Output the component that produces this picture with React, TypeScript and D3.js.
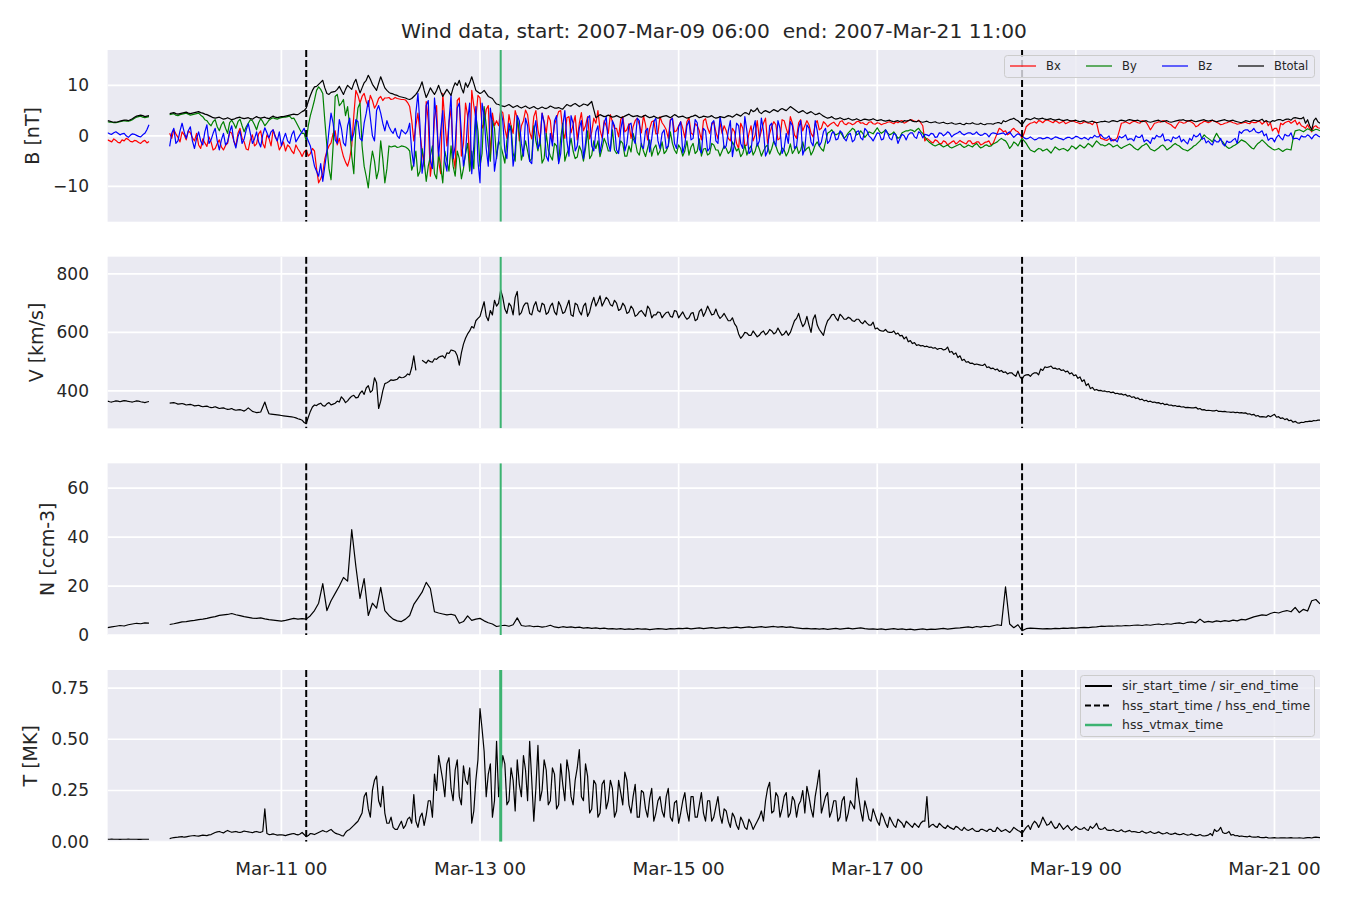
import React from 'react';
import * as d3 from 'd3';

// ---------- DATA: hourly samples from 2007-03-09 06:00 UTC, plus half-hour samples (at h + 0.5) ----------
const START = Date.UTC(2007, 2, 9, 6);
const END = Date.UTC(2007, 2, 21, 11);
const _ = null;

const bxHour = [
  -0.8,-1.2,-0.9,-1.4,-1.0,-0.7,-1.2,-1.0,-1.5,-0.9,-1.1, _,_,_,_,
  0.5,1.2,-0.3,0.8,-0.8,0.6,-1.0,-1.8,-0.6,-2.1, -1.2,-2.5,-0.8,-2.8,-1.5,0.5,-2.0,1.5,-1.2,-2.8,
  0.2,-1.6,1.0,-2.4,-0.5,1.2,-1.0,-2.0,-3.0,-2.2, -3.5,-2.6,-4.1,
  -2.8,-3.5,-3.0,-9.3,-7.4,-3.0,-1.4,1.0,-0.5,-4.1, -6.0,-2.0,9.0,6.5,8.4,5.8,7.0,6.2,7.8,7.5,
  7.6,7.3,7.4,7.2,7.1,5.8,-1.0,4.5,-3.0,6.8, -8.0,3.5,-5.0,8.4,-2.0,5.5,-6.5,7.5,-1.5,4.0, 9.0,3.5,7.5,2.5,6.0,4.5,3.0,
  5.0,1.5,4.2,0.5,3.5,2.0,5.1,0.8,3.8,1.2, 4.5,0.5,3.0,2.2,4.8,1.0,3.6,0.6,4.0,2.5,
  1.0,3.8,0.8,2.5,1.2,3.0,0.5,2.8,1.5,3.2, 0.8,2.4,1.8,3.5,0.6,2.2,1.4,3.0,0.5,2.6,
  1.2,3.2,0.8,2.0,1.5,2.8,0.6,2.4,1.0,3.0, 1.6,2.2,0.8,2.6,
  2.0,-0.5,1.5,-1.5,2.5,-2.0,0.5,-1.0,3.0,1.0, 3.5,0.5,2.8,-0.8,3.2,1.5,3.8,0.2,2.6,1.0,
  3.0,0.5,2.4,1.2,2.8,1.8,2.5,2.2,2.8,2.4, 2.6,2.2,2.8,2.5,2.3,2.7,2.4,2.6,2.2,2.5,
  2.8,2.4,2.6,3.0,2.7,3.2,2.9,3.1,2.0,-0.5, -1.2,-0.8,-1.5,-1.0,-1.8,-1.2,-1.6,-0.9,-1.4,-1.0,
  -1.6,-1.2,-1.8,-1.3,-1.0,-1.5,0.5,1.2,
  1.0,0.5,1.5,0.8,-0.5,1.8,2.5,2.8,3.0,2.6, 3.2,2.8,3.0,2.5,2.9,2.6,3.0,2.7,2.4,2.8,
  2.5,2.2,2.6,-0.5,-0.8,-0.6,-1.0,-0.4,2.5,2.8, 2.4,2.9,2.6,3.0,2.7,1.2,2.5,2.8,3.0,2.6,
  2.2,1.5,2.8,2.5,3.0,2.7,1.8,2.4,2.9,2.6, 3.1,2.7,2.2,2.5,2.8,2.6,2.3,2.5,
  2.7,2.4,2.6,2.9,2.3,3.0,2.6,1.5,0.5,2.2, 2.8,2.5,3.1,2.7,1.8,2.2,0.8,2.0,1.5,
];
const bxHalf = [
  -1.0,-0.6,-1.3,-0.8,-0.5,-1.1,-0.9,-1.3,-1.1,-1.4, _,_,_,_,_,
  -0.5,0.4,-1.2,0.2,1.0,-0.4,0.5,-2.5,-1.4,-0.2, -2.8,-1.5,-2.2,-1.9,0.8,-1.0,0.5,-0.5,-2.6,-0.8,
  -2.0,0.4,-1.5,0.2,-2.0,0.0,-2.8,-1.2,-1.8,-3.0, -1.8,-3.2,
  -3.2,-4.0,-2.5,-6.5,-8.5,-4.5,-2.0,0.5,-1.8,-2.5, -5.2,-4.5,4.0,8.0,7.8,6.8,8.0,5.5,7.4,7.0,
  7.5,7.2,7.6,7.3,7.2,6.6,3.0,2.0,0.5,-6.0, 3.0,-4.5,6.0,-7.5,3.0,2.5,-3.8,7.0,-4.0,6.5,
  -6.8,6.0,8.0,1.5,5.2,-4.2,2.0,
  2.0,4.6,-0.5,2.0,5.0,-1.0,3.0,4.2,-0.6,5.0, -0.8,2.8,4.0,-1.2,3.5,5.0,-0.5,3.8,2.2,-0.8,
  4.6,2.0,-0.6,3.5,5.0,-0.4,2.0,4.2,1.5,-0.2, 3.8,1.2,-0.5,3.0,2.2,4.0,-0.8,2.8,0.4,3.8,
  2.0,-0.5,3.5,1.0,2.8,-0.4,3.6,0.2,2.0,-0.8, 3.4,0.5,2.8,-0.6,
  0.5,1.0,-1.0,0.8,-2.5,1.5,-1.8,2.0,0.2,-0.5, 2.5,-1.5,1.8,2.2,-0.5,3.0,0.2,2.5,-0.5,3.2,
  2.0,2.2,-0.2,3.0,1.5,2.4,2.2,2.7,1.9,3.0, 2.2,2.5,2.4,2.9,2.6,2.2,2.8,2.3,2.5,2.4,
  2.7,2.6,2.8,2.9,2.5,3.0,3.1,2.8,2.6,-1.0, -0.8,-1.4,-1.0,-1.6,-1.2,-1.5,-1.0,-1.3,-1.2,-1.6,
  -1.0,-1.5,-1.2,-1.6,-1.2,-1.8,-0.5,1.5,
  0.8,0.2,1.2,1.0,0.3,0.5,2.2,2.6,2.5,2.9, 3.0,3.0,2.6,2.8,2.7,2.4,2.8,2.9,2.6,2.5,
  2.7,2.5,2.8,0.8,-0.6,-0.9,-0.5,-0.8,1.0,2.6, 2.6,2.7,2.8,2.5,2.9,2.0,1.8,2.6,2.7,2.9,
  2.4,1.8,2.2,2.7,2.6,2.9,2.4,2.0,2.6,2.8, 2.8,2.9,2.5,2.3,2.6,2.8,2.5,2.4,
  2.6,2.5,2.8,2.6,2.8,2.7,2.0,1.0,1.5,2.5, 2.6,2.9,2.8,2.2,2.0,1.5,1.4,1.8,1.6,
];

const byHour = [
  2.8,2.7,2.6,2.8,3.0,2.9,3.2,3.7,3.9,3.6,3.8, _,_,_,_,
  4.2,4.4,4.0,4.3,4.5,4.1,4.3,4.5,3.8,3.0, 2.0,3.2,1.0,2.8,0.5,3.1,1.5,3.3,0.8,2.5,
  3.0,1.2,3.4,2.0,3.1,3.6,3.3,3.6,3.7,3.9, 3.5,2.0,0.5,
  -1.0,4.0,7.1,9.7,8.4,-2.0,-8.7,7.8,6.0,7.2, 5.8,-4.0,1.5,6.5,-6.0,-10.3,-3.0,-8.5,-1.0,-9.3,
  -2.0,-2.1,-2.3,-2.0,-2.2,-3.0,-5.5,-8.0,-2.5,-9.0, -4.0,-7.5,-3.5,-9.3,-5.0,-2.0,-8.0,-4.5,-6.5,-1.5,
  -3.0,4.0,-6.0,5.8,-2.0,3.0,-4.5,
  -2.0,-5.4,1.0,-3.5,3.8,-4.8,-1.0,-5.0,2.0,-3.0, -5.4,0.5,-4.0,-1.5,-5.2,2.5,-3.5,-0.5,-4.5,-2.0,
  -5.0,1.0,-3.8,-2.5,-4.1,-0.5,-3.0,1.2,-3.5,-1.0, -4.0,-2.0,0.5,-3.2,-1.5,-4.1,-0.8,-2.5,-3.8,-1.2,
  -3.0,0.8,-2.8,-1.8,-4.0,-1.0,-2.2,-3.5,-0.6,-2.6, -3.8,-1.5,-2.8,-4.0,
  -2.0,-3.5,-1.2,-3.0,-4.1,-1.8,-2.6,-3.8,-1.5,-4.0, -2.2,-3.6,-1.0,-3.2,-2.4,-4.0,-1.6,-2.8,-3.5,-1.2,
  -2.5,-3.8,-1.8,-2.0,-3.0,0.5,1.2,0.2,0.8,-0.5, 0.6,1.5,0.2,1.0,-0.3,0.8,0.4,1.6,0.5,1.2,
  0.2,0.8,-0.5,0.6,1.0,1.2,0.8,1.5,0.5,-0.8, -1.5,-2.0,-1.6,-2.2,-1.8,-2.4,-2.0,-1.6,-2.3,-1.8,
  -2.2,-1.5,-2.4,-1.9,-2.1,-1.6,-1.2,-0.5,
  -1.0,-2.5,-1.2,-2.0,-0.5,-1.5,-2.8,-3.2,-2.5,-3.0, -2.6,-3.4,-2.2,-2.8,-2.5,-3.0,-2.0,-2.6,-1.8,-2.4,
  -1.5,-2.2,-1.0,-1.8,-2.0,-1.5,-2.2,-1.8,-2.5,-2.0, -1.6,-2.3,-2.8,-2.0,-1.5,-2.6,-3.0,-2.4,-1.8,-2.8,
  -2.2,-1.5,-2.0,-2.7,-3.0,-2.4,-1.8,-1.0,0.2,-0.5, -1.2,0.5,-0.8,-1.8,-2.5,-2.0,-1.5,-0.8,
  -1.2,-2.0,-2.6,-1.5,-0.8,-1.6,-2.3,-2.8,-2.5,-3.1, -2.6,-2.8,1.0,1.2,0.8,1.4,1.0,1.3,1.0,
];
const byHalf = [
  2.7,2.6,2.7,2.9,2.9,3.0,3.5,3.8,3.7,3.7, _,_,_,_,_,
  4.3,4.1,4.2,4.4,4.3,4.2,4.4,4.1,3.2,2.4, 2.8,1.8,2.2,1.5,2.6,2.4,2.8,2.0,1.8,3.2,
  2.2,2.6,2.8,2.5,3.4,3.4,3.5,3.7,3.8,3.4, 2.8,1.2,
  0.5,2.0,5.5,9.0,9.2,3.0,-6.5,-2.0,8.2,6.5, 4.0,2.0,-7.5,5.5,-2.0,-8.0,-6.0,-5.0,-6.8,-4.5,
  -6.5,-2.2,-2.0,-2.2,-2.1,-2.5,-6.8,-3.0,-7.0,-5.0, -6.0,-2.0,-8.5,-6.0,-3.0,-7.0,-6.0,-3.0,-8.5,-3.5,
  -7.0,-6.5,1.0,-3.5,2.0,-5.0,1.5,
  -1.0,-3.5,-1.0,2.0,-5.0,0.5,-3.0,-3.0,-4.5,-1.0, -0.5,-4.5,-2.8,-4.8,-2.0,-0.5,-5.0,-2.5,-3.0,-4.2,
  -3.0,-2.5,-4.5,-1.0,-1.0,-2.5,-1.5,-3.0,-2.8,-3.0, -1.5,-4.0,-3.2,-1.0,-3.8,-3.0,-2.5,-4.0,-1.8,-3.0,
  -3.5,-2.0,-1.5,-3.5,-2.5,-3.0,-3.8,-1.5,-3.0,-4.0, -2.5,-3.5,-1.8,-2.8,
  -3.0,-2.5,-3.0,-2.0,-2.5,-3.5,-3.8,-2.0,-3.0,-2.6, -3.0,-1.8,-2.5,-2.0,-3.8,-2.8,-3.2,-3.5,-2.0,-2.8,
  -3.0,-2.2,-3.0,-1.2,-2.6,-1.2,0.8,0.6,0.4,0.2, 0.0,1.0,1.2,0.4,0.5,0.2,0.6,1.0,0.9,0.8,
  0.6,0.4,0.2,-0.2,0.8,1.0,1.1,1.2,0.9,-0.2, -1.2,-1.8,-1.8,-1.9,-2.0,-2.2,-2.2,-1.8,-2.0,-2.1,
  -2.0,-1.8,-2.0,-2.2,-1.8,-2.0,-1.4,-0.8,
  -0.8,-1.6,-2.0,-1.5,-1.2,-1.0,-2.2,-3.0,-2.8,-2.6, -2.8,-3.0,-2.8,-2.5,-2.6,-2.7,-2.6,-2.2,-2.2,-2.1,
  -2.0,-1.8,-1.6,-1.4,-1.8,-1.8,-1.8,-2.0,-2.2,-2.2, -1.8,-1.9,-2.6,-2.4,-1.8,-2.0,-2.8,-2.7,-2.0,-2.2,
  -2.5,-1.8,-1.8,-2.4,-2.8,-2.7,-2.0,-1.4,-0.4,-0.2, -0.8,-0.3,-0.2,-1.2,-2.2,-2.3,-1.8,-1.2,
  -1.0,-1.6,-2.4,-2.0,-1.2,-1.2,-2.0,-2.6,-2.7,-2.8, -2.8,-2.7,-0.5,1.1,1.0,1.1,1.2,1.1,1.2,
];

const bzHour = [
  0.6,0.3,0.8,0.2,0.5,-0.3,0.4,0.1,-0.2,0.5,2.2, _,_,_,_,
  -2.1,1.5,-1.0,2.5,-0.5,1.8,-2.5,0.8,-1.8,2.2, -0.8,1.5,-2.8,0.5,-1.2,2.0,-2.4,1.0,-0.6,2.4,
  -1.5,0.8,-2.2,1.6,-0.4,1.2,-1.0,-2.0,0.5,-1.5, 1.0,-0.5,0.8,
  0.0,-2.0,-6.0,-8.0,-9.0,-3.0,4.5,-0.8,3.2,-1.4, 2.0,-1.0,3.2,-0.5,2.5,7.0,0.0,5.0,4.5,1.0,
  1.8,0.5,0.0,1.2,0.4,2.5,-6.0,8.4,-7.4,6.0, -5.0,7.5,-4.0,5.0,-7.0,8.0,-2.0,6.5,-6.0,3.0,
  -7.5,5.8,-9.3,4.0,-6.0,2.0,-4.0,
  5.0,-3.0,2.5,-6.0,4.0,-1.5,3.5,-5.0,1.0,-2.5, 4.5,-4.0,0.5,3.0,-5.5,2.0,-1.0,4.0,-3.0,1.5,
  -4.5,3.5,-2.0,0.8,-3.4,2.5,-1.5,3.0,-2.8,1.2, -3.0,2.2,-0.5,3.5,-2.0,1.0,-3.2,2.8,-1.0,0.5,
  -2.5,3.0,-1.5,1.8,-3.4,2.0,-0.8,3.2,-2.6,1.5, -3.0,2.5,-1.0,3.8,
  -2.5,1.0,-4.1,2.5,-1.5,3.8,-3.5,1.2,-2.0,3.5, -4.0,2.0,-1.0,3.0,-3.5,0.5,2.8,-2.5,1.5,-3.8,
  2.2,-1.2,3.0,-2.0,0.8,-1.5,0.5,-0.8,1.0,-0.5, 0.2,-1.2,0.8,-0.4,1.5,0.0,-1.0,0.6,-0.8,1.2,
  -0.5,0.5,-1.5,0.3,-0.8,0.6,-0.2,0.8,-0.4,0.2, 0.5,-0.3,0.6,0.0,0.8,-0.2,0.4,0.9,0.2,0.6,
  0.3,0.8,0.1,0.5,-0.2,0.6,0.3,0.5,
  0.2,0.8,-0.3,0.4,0.0,-0.6,-0.2,-0.8,-0.4,-0.6, -0.3,-0.7,-0.2,-0.5,-0.8,-0.3,-0.6,-0.1,-0.5,-0.3,
  -0.8,-0.4,-0.2,0.3,-0.5,0.0,-0.8,-1.2,-0.4,0.2, -0.6,-1.0,-0.3,0.2,-0.8,-1.5,-0.6,-0.2,0.4,-0.8,
  -1.2,-0.5,0.0,-0.7,-1.6,-0.9,-0.2,0.5,-0.4,-1.0, -1.8,-1.2,-0.5,-2.0,-1.3,-0.8,-1.5,0.5,
  1.2,0.8,1.5,0.6,1.0,0.4,-0.5,-1.2,0.2,-0.8, 0.0,0.6,-0.5,-0.8,-0.2,0.2,-0.6,0.3,-0.2,
];
const bzHalf = [
  0.4,0.6,0.5,0.4,0.0,0.1,0.3,-0.1,0.2,1.2, _,_,_,_,_,
  0.5,-1.5,1.0,0.8,1.0,-1.0,-0.5,-1.0,0.8,-1.5, 0.5,-1.0,-0.8,-1.8,0.8,-1.0,-0.2,-1.5,1.2,0.5,
  -0.6,-1.2,0.2,0.6,0.8,-0.2,0.8,-0.6,-1.0,0.2, -1.2,0.2,
  1.5,-1.0,-4.0,-7.0,-5.5,-6.0,1.0,2.5,-1.5,1.5, -2.0,3.5,0.5,2.8,-1.0,4.5,3.5,-1.0,6.0,2.5,
  3.0,1.0,1.5,-0.5,0.8,1.0,-3.0,4.5,2.0,-4.0, 7.0,-6.5,3.0,1.0,-5.0,3.0,-4.5,5.5,0.5,-3.5,
  6.5,-2.0,-5.0,6.5,-2.5,5.5,-7.0,
  -1.0,3.0,-4.5,1.0,-3.0,3.0,-4.0,2.0,-5.5,3.0, -1.5,2.5,-5.0,-2.0,4.0,-3.5,5.0,-4.0,2.5,-2.0,
  3.0,-1.5,4.0,-3.0,2.0,-1.0,3.8,-3.0,2.0,-3.5, 3.5,-1.5,2.5,-1.5,3.0,-2.5,1.5,-0.5,3.5,-2.5,
  1.2,-2.0,3.5,-2.5,2.8,-1.8,3.0,-0.5,2.6,-3.4, 1.0,-2.5,3.0,-1.5,
  1.5,-2.0,3.0,-1.5,2.0,-2.5,1.0,-3.0,3.0,-1.0, 1.0,-3.0,2.5,-2.0,1.5,-2.5,-1.5,2.0,-2.0,3.0,
  -2.5,1.5,-2.0,1.0,-1.2,1.5,-1.0,0.8,-0.6,0.6, -1.0,0.5,-0.8,1.0,-0.8,1.0,-0.4,-0.2,0.5,-0.6,
  0.5,-0.8,0.2,-0.5,0.0,0.2,0.6,-0.5,0.5,0.3, 0.0,0.4,-0.2,0.5,0.3,0.5,0.2,0.6,0.4,0.4,
  0.6,0.4,0.3,0.2,0.3,0.4,0.5,0.4,
  0.6,0.5,0.2,0.1,0.2,-0.4,-0.5,-0.5,-0.7,-0.4, -0.5,-0.4,-0.5,-0.3,-0.6,-0.5,-0.3,-0.4,-0.2,-0.6,
  -0.5,-0.3,0.1,-0.2,-0.2,-0.4,-1.0,-0.8,-0.1,-0.2, -0.8,-0.6,0.0,-0.3,-1.2,-1.0,-0.4,0.1,-0.2,-1.0,
  -0.8,-0.2,-0.4,-1.2,-1.2,-0.5,0.2,0.0,-0.7,-1.4, -1.5,-0.8,-1.2,-1.6,-1.0,-1.2,-0.5,0.9,
  1.0,1.2,1.0,0.8,0.7,0.0,-0.9,-0.5,-0.3,-0.4, 0.3,0.0,-0.6,-0.5,0.0,-0.2,-0.1,0.0,0.0,
];

const btHour = [
  3.0,2.8,2.7,2.9,3.1,3.0,3.4,3.9,4.1,3.8,4.0, _,_,_,_,
  4.4,4.6,4.3,4.5,4.7,4.4,4.6,4.8,4.5,4.2, 3.8,3.5,3.7,3.3,3.6,3.2,3.5,3.7,3.4,3.6,
  3.3,3.8,3.5,3.7,3.4,3.9,3.6,3.8,3.9,4.1, 4.3,4.2,4.8,
  5.5,8.0,9.7,10.2,11.0,8.4,8.6,8.8,9.8,8.2, 10.0,9.2,11.2,8.5,10.5,12.0,10.2,9.0,11.7,9.5,
  8.6,8.3,8.0,7.7,7.5,7.2,7.8,8.8,10.7,7.6, 9.5,8.2,10.0,7.8,9.2,8.0,10.5,11.0,8.5,9.6,
  11.7,9.0,8.4,9.0,7.8,7.4,6.3,
  6.0,5.8,6.2,5.6,6.0,5.5,5.9,5.4,5.8,5.3, 5.7,5.4,5.9,5.5,5.6,5.3,6.2,5.9,6.4,5.8,
  6.3,6.0,6.8,3.6,4.2,3.8,4.1,3.7,4.0,3.6, 3.9,4.3,3.8,4.0,3.7,4.1,3.6,3.9,3.5,3.8,
  4.0,3.6,4.2,3.7,3.9,3.5,3.8,4.1,3.6,3.9, 3.7,4.0,3.5,3.8,
  3.6,4.0,3.7,4.3,3.9,4.6,4.2,4.8,5.5,4.4, 5.0,4.6,5.2,4.8,5.4,5.0,5.8,5.2,4.6,5.0,
  4.4,4.8,4.2,4.5,3.9,3.5,3.8,3.3,3.6,3.2, 3.5,3.1,3.4,3.0,3.3,3.1,3.4,3.0,3.2,2.9,
  3.1,2.8,3.0,2.7,2.9,3.2,2.8,3.0,2.7,2.9, 2.6,2.8,2.5,2.7,2.4,2.6,2.3,2.5,2.2,2.4,
  2.6,2.3,2.5,2.2,2.4,2.3,2.6,2.4,
  2.8,3.2,3.5,3.0,2.2,3.4,3.2,3.6,3.3,3.5, 3.2,3.4,3.1,3.3,3.0,3.2,2.9,3.1,2.8,3.0,
  2.7,2.9,2.6,2.8,2.9,2.7,3.0,2.8,3.1,2.9, 3.2,3.0,3.1,2.8,3.0,2.7,2.9,3.1,2.8,3.0,
  2.7,2.9,3.1,3.2,2.9,3.1,2.8,3.0,3.2,2.9, 3.1,2.8,3.0,3.2,2.9,3.1,2.8,2.6,
  3.0,2.8,3.1,2.9,3.3,3.0,2.7,2.9,3.2,3.0, 3.3,3.1,3.6,3.4,3.7,3.2,1.2,3.5,2.5,
];
const btHalf = [
  2.9,2.7,2.8,3.0,3.1,3.2,3.7,4.0,4.0,3.9, _,_,_,_,_,
  4.5,4.4,4.4,4.6,4.5,4.5,4.7,4.6,4.3,4.0, 3.6,3.6,3.5,3.4,3.4,3.3,3.6,3.5,3.5,3.4,
  3.6,3.6,3.6,3.5,3.7,3.7,3.7,3.8,4.0,4.2, 4.2,4.5,
  5.0,6.8,9.0,9.8,10.6,9.5,8.2,8.7,9.2,9.0, 9.2,9.6,10.4,9.8,9.5,11.0,11.2,9.6,10.4,10.6,
  9.0,8.4,8.1,7.8,7.6,7.3,7.4,8.2,9.6,9.0, 8.5,8.8,9.0,8.8,8.5,8.6,9.5,10.0,9.5,10.5,
  10.5,10.4,8.7,8.6,8.4,7.6,6.8,
  6.2,5.9,6.0,5.9,5.8,5.7,5.7,5.6,5.6,5.5, 5.5,5.5,5.6,5.7,5.5,5.4,5.8,6.0,6.2,6.1,
  6.0,6.2,6.4,5.2,3.9,4.0,3.9,3.9,3.8,3.8, 3.7,4.1,4.0,3.9,3.8,3.9,3.8,3.7,3.7,3.6,
  3.9,3.8,3.9,4.0,3.8,3.7,3.6,3.9,3.9,3.7, 3.8,3.8,3.7,3.6,
  3.7,3.8,3.9,4.0,4.1,4.3,4.5,5.2,5.0,4.7, 4.8,4.8,4.9,5.0,5.2,5.2,5.4,5.5,4.9,4.8,
  4.7,4.6,4.5,4.3,4.2,3.7,3.6,3.5,3.4,3.4, 3.3,3.3,3.2,3.2,3.2,3.2,3.2,3.2,3.1,3.0,
  3.0,2.9,2.9,2.8,3.0,3.0,2.9,2.8,2.8,2.8, 2.7,2.7,2.6,2.6,2.5,2.5,2.4,2.4,2.3,2.5,
  2.4,2.4,2.3,2.3,2.4,2.4,2.5,2.6,
  3.0,3.0,3.3,3.2,2.6,2.8,3.3,3.4,3.4,3.4, 3.3,3.3,3.2,3.2,3.1,3.1,3.0,3.0,2.9,2.9,
  2.8,2.8,2.7,2.7,2.8,2.8,2.9,2.9,3.0,3.0, 3.1,3.1,3.0,2.9,2.9,2.8,2.8,3.0,2.9,2.9,
  2.8,2.8,3.0,3.1,3.0,3.0,2.9,2.9,3.1,3.0, 3.0,2.9,2.9,3.1,3.0,3.0,2.9,2.7,
  2.8,2.9,3.0,3.0,3.1,2.8,2.8,3.0,3.1,3.2, 3.2,3.3,3.5,3.5,3.4,2.5,2.0,3.0,2.8,
];

const speedHour = [
  365,362,366,363,367,364,362,366,363,360,364, _,_,_,_,
  358,360,355,357,352,354,349,351,346,348, 343,346,340,342,337,340,334,336,331,342,
  330,326,328,362,322,320,318,316,314,312, 310,305,300,
  288,330,352,355,350,356,352,358,362,372, 366,382,376,392,388,418,402,428,365,425,
  432,436,440,445,450,455,520,_,505,495, 500,510,515,520,530,540,535,488,560,595,
  620,640,655,705,640,660,690,
  745,680,700,660,740,668,700,665,690,675, 700,662,690,670,705,665,690,660,700,672,
  690,655,700,690,725,705,712,690,700,680, 690,670,680,660,675,655,680,660,670,650,
  668,655,675,650,670,645,665,640,672,655, 690,660,680,648,
  665,640,650,620,580,600,590,605,585,600, 592,610,595,615,590,605,600,640,665,620,
  655,600,660,610,590,640,660,650,662,645, 652,640,645,635,640,625,635,615,605,610,
  600,605,598,590,585,572,565,558,555,553, 550,548,545,540,550,535,530,520,508,500,
  495,492,488,492,482,478,475,470,
  465,462,455,468,440,455,450,462,455,470, 480,485,478,476,472,468,462,455,448,438,
  425,412,405,402,400,398,396,392,390,388, 384,380,376,372,368,365,362,360,358,355,
  352,350,348,346,344,342,344,340,336,334, 332,334,330,330,328,328,327,326,
  325,322,320,316,312,310,312,320,312,308, 305,300,296,290,292,295,296,298,300,
];
const speedHalf = [
  363,364,365,365,366,363,364,365,362,362, _,_,_,_,_,
  359,358,356,355,353,352,350,348,347,345, 344,343,341,339,338,336,335,334,336,336,
  328,327,345,340,321,319,317,315,313,311, 308,303,
  292,310,345,350,358,348,360,355,365,380, 360,375,385,378,400,410,395,445,340,400,
  428,438,438,448,446,458,480,470,_,500, 505,498,508,518,512,528,538,520,530,580,
  605,615,648,680,655,675,710,
  700,720,665,690,720,660,690,700,660,705, 670,695,668,700,660,690,670,710,655,695,
  660,700,670,720,705,690,720,695,710,675, 700,665,690,655,670,665,690,650,660,668,
  660,670,652,672,660,655,650,668,645,680, 670,675,662,660,
  655,652,640,630,595,588,598,590,595,590, 605,598,605,600,602,595,590,620,648,640,
  630,625,645,625,600,620,648,662,640,655, 645,648,638,645,630,632,625,612,608,604,
  602,600,594,588,578,568,562,556,554,551, 549,546,542,545,542,532,525,514,504,498,
  494,490,490,487,480,476,472,467,
  463,458,462,450,448,452,456,458,462,475, 482,482,477,474,470,465,458,452,443,432,
  418,408,403,401,399,397,394,391,389,386, 382,378,374,370,366,363,361,359,356,353,
  351,349,347,345,343,343,342,338,335,333, 333,332,330,329,328,327,326,325,
  324,321,318,314,311,311,316,316,310,306, 302,298,293,291,293,295,297,299,300,
];

const densityHour = [
  3.0,3.3,3.6,3.9,3.7,4.2,4.5,4.8,4.6,5.0,4.9, _,_,_,_,
  4.3,4.6,5.0,5.4,5.5,5.8,6.0,6.3,6.5,6.8, 7.2,7.5,8.0,8.2,8.4,8.8,8.3,7.9,7.5,7.2,
  6.9,6.8,7.0,6.6,6.3,6.1,5.9,5.7,6.0,6.4, 6.8,6.5,6.7,
  6.5,7.9,10,13,21,10,14,17,20,23.5, 22,43,28,15,23,8,13,11,19.5,10,
  8,6.5,5.8,5.5,6.5,8,12.5,15,17.5,21.5, 19,9.5,9,8.6,8.2,8.5,8,4.8,5.5,7.8,
  6,6.5,6.8,5.8,5,4.5,
  3.5,3.8,4.0,3.6,4.2,7.0,3.9,3.6,3.8,3.4, 3.6,3.2,3.5,4.0,3.3,3.0,3.4,3.1,3.3,3.0,
  3.2,2.8,3.0,2.7,2.9,2.6,2.8,2.5,2.6,2.4, 2.6,2.3,2.5,2.3,2.6,2.4,2.5,2.2,2.4,2.6,
  2.5,2.3,2.6,2.5,2.7,2.6,2.8,2.5,2.7,2.9, 2.6,2.8,3.0,2.7,2.9,
  3.1,2.8,3.0,3.2,2.9,3.1,3.3,3.0,3.2,3.4, 3.1,3.3,3.5,3.2,3.4,3.1,3.3,3.0,2.8,2.6,
  2.7,2.5,2.6,2.4,2.6,2.3,2.5,2.7,2.4,2.6, 2.8,2.5,2.7,2.9,2.6,2.4,2.5,2.3,2.5,2.2,
  2.4,2.6,2.3,2.5,2.2,2.4,2.1,2.3,2.5,2.2, 2.4,2.3,2.5,2.7,2.4,2.6,2.8,2.9,3.1,3.3,
  3.0,3.5,3.2,3.6,3.4,3.8,4.2,3.9,
  19.7,4.5,3.0,4.2,1.8,2.6,2.8,2.7,2.6,2.5, 2.6,2.5,2.7,2.6,2.8,2.7,2.9,2.8,3.0,3.1,
  3.0,3.2,3.3,3.6,3.5,3.7,3.6,3.8,3.7,3.9, 3.8,4.0,4.1,3.9,4.2,4.0,4.3,4.5,4.2,4.6,
  4.4,4.8,5.0,4.6,5.2,5.4,5.0,6.5,5.2,5.6, 5.3,5.8,5.5,5.9,5.6,6.1,5.8,6.4,
  6.2,6.8,7.4,7.8,8.2,8.0,8.8,9.3,9.0,9.6, 10.0,9.5,11.3,9.2,10.5,9.8,14.0,14.5,12.7,
];

const tempHour = [
  0.012,0.013,0.012,0.011,0.012,0.013,0.012,0.012,0.011,0.012,0.012, _,_,_,_,
  0.015,0.02,0.022,0.025,0.024,0.028,0.03,0.027,0.032,0.03, 0.035,0.045,0.05,0.043,0.055,0.046,0.05,0.045,0.052,0.048,
  0.044,0.05,0.046,0.16,0.035,0.038,0.032,0.034,0.03,0.036, 0.04,0.033,0.045,
  0.025,0.04,0.035,0.045,0.055,0.048,0.06,0.042,0.035,0.028, 0.055,0.07,0.09,0.12,0.22,0.16,0.25,0.32,0.17,0.14,
  0.09,0.07,0.06,0.1,0.08,0.12,0.23,0.07,0.14,0.13, 0.2,0.33,0.42,0.3,0.38,0.26,0.35,0.22,0.37,0.28,
  0.09,0.3,0.65,0.44,0.33,0.12,0.49,0.32,
  0.38,0.2,0.3,0.4,0.22,0.35,0.49,0.1,0.47,0.25, 0.35,0.2,0.33,0.18,0.28,0.4,0.22,0.3,0.45,0.2,
  0.32,0.16,0.28,0.14,0.3,0.2,0.26,0.15,0.24,0.34, 0.18,0.22,0.12,0.25,0.16,0.21,0.1,0.2,0.15,0.22,
  0.12,0.19,0.09,0.2,0.15,0.22,0.12,0.18,0.14,0.2, 0.1,0.17,0.13,
  0.16,0.1,0.14,0.08,0.12,0.07,0.11,0.06,0.1,0.15, 0.2,0.29,0.15,0.22,0.16,0.24,0.14,0.2,0.18,0.25,
  0.27,0.16,0.22,0.35,0.18,0.24,0.15,0.2,0.12,0.22, 0.14,0.18,0.31,0.15,0.2,0.11,0.16,0.1,0.14,0.09,
  0.12,0.08,0.11,0.09,0.1,0.08,0.09,0.07,0.1,0.22, 0.08,0.075,0.09,0.07,0.08,0.065,0.075,0.06,0.07,0.055,
  0.065,0.05,0.06,0.055,0.06,0.05,0.07,0.05,
  0.06,0.045,0.07,0.055,0.04,0.07,0.06,0.1,0.07,0.12, 0.08,0.1,0.065,0.09,0.06,0.08,0.055,0.075,0.06,0.07,
  0.055,0.065,0.09,0.06,0.07,0.055,0.06,0.05,0.058,0.048, 0.055,0.05,0.045,0.052,0.042,0.05,0.04,0.048,0.038,0.045,
  0.036,0.042,0.035,0.04,0.032,0.038,0.03,0.035,0.028,0.032, 0.03,0.05,0.07,0.04,0.05,0.035,0.03,0.028,
  0.025,0.027,0.022,0.025,0.02,0.022,0.018,0.02,0.018,0.019, 0.018,0.02,0.018,0.019,0.017,0.02,0.018,0.022,0.02,
];
const tempHalf = [
  0.012,0.012,0.012,0.012,0.012,0.012,0.012,0.011,0.012,0.012, _,_,_,_,_,
  0.018,0.021,0.024,0.022,0.026,0.029,0.028,0.03,0.031,0.033, 0.04,0.048,0.046,0.05,0.05,0.048,0.047,0.048,0.05,0.046,
  0.048,0.047,0.05,0.04,0.036,0.035,0.033,0.032,0.033,0.038, 0.036,0.038,
  0.035,0.03,0.038,0.04,0.05,0.05,0.055,0.05,0.038,0.03, 0.045,0.06,0.08,0.1,0.14,0.24,0.12,0.3,0.2,0.27,
  0.09,0.12,0.06,0.08,0.065,0.11,0.09,0.1,0.12,0.08, 0.2,0.12,0.25,0.36,0.22,0.41,0.2,0.4,0.18,0.3,
  0.36,0.15,0.4,0.55,0.22,0.38,0.2,
  0.22,0.42,0.18,0.36,0.15,0.28,0.42,0.2,0.3,0.26, 0.2,0.4,0.18,0.36,0.16,0.38,0.2,0.34,0.18,0.36,
  0.22,0.38,0.14,0.3,0.12,0.28,0.16,0.3,0.12,0.3, 0.18,0.3,0.14,0.28,0.12,0.24,0.12,0.26,0.14,0.22,
  0.12,0.26,0.1,0.2,0.14,0.24,0.1,0.22,0.12,0.24, 0.1,0.2,0.12,0.22,
  0.09,0.15,0.07,0.12,0.06,0.1,0.06,0.09,0.08,0.12, 0.1,0.26,0.14,0.24,0.12,0.22,0.12,0.22,0.12,0.2,
  0.14,0.22,0.12,0.28,0.14,0.22,0.12,0.2,0.1,0.2, 0.1,0.2,0.16,0.22,0.1,0.16,0.1,0.13,0.08,0.12,
  0.07,0.1,0.07,0.1,0.07,0.09,0.07,0.08,0.09,0.1, 0.07,0.085,0.07,0.08,0.065,0.07,0.06,0.07,0.055,0.06,
  0.06,0.055,0.05,0.06,0.05,0.06,0.05,0.06,
  0.055,0.052,0.055,0.062,0.05,0.055,0.08,0.085,0.09,0.09, 0.1,0.085,0.08,0.07,0.075,0.07,0.065,0.065,0.065,0.062,
  0.06,0.075,0.075,0.065,0.062,0.058,0.055,0.054,0.052,0.05, 0.052,0.048,0.048,0.046,0.046,0.045,0.044,0.043,0.042,0.04,
  0.039,0.038,0.037,0.036,0.035,0.034,0.033,0.031,0.03,0.03, 0.04,0.06,0.055,0.045,0.042,0.032,0.029,0.026,
  0.026,0.024,0.023,0.022,0.021,0.02,0.019,0.019,0.018,0.019, 0.019,0.019,0.018,0.018,0.018,0.019,0.02,0.021,0.021,
];

const hssStartTimes = [Date.UTC(2007, 2, 11, 6)];
const hssEndTimes = [Date.UTC(2007, 2, 18, 11)];
const vtmaxTimes = [Date.UTC(2007, 2, 13, 5)];

const bTicks = [-10, 0, 10];
const vTicks = [400, 600, 800];
const nTicks = [0, 20, 40, 60];
const tTicks = [0, 0.25, 0.5, 0.75];

const bLegend = ['Bx', 'By', 'Bz', 'Btotal'];
const bColors = ['red', 'green', 'blue', 'black'];
const eventLegend = ['sir_start_time / sir_end_time', 'hss_start_time / hss_end_time', 'hss_vtmax_time'];

const TITLE = 'Wind data, start: 2007-Mar-09 06:00  end: 2007-Mar-21 11:00';

// ---------- LAYOUT ----------
const LEFT = 107.6, RIGHT = 1320;
const PANEL_TOP0 = 50, PANEL_STEP = 206.67, PANEL_H = 171.7;
const FONT = '"DejaVu Sans", sans-serif';
const TXT = '#262626';
const BG = '#EAEAF2';
const GREEN = '#3CB371';

type Pt = [Date, number | null];

// merge the hourly samples with the half-hour samples into one time-ordered list
const toPts = (hour: (number | null)[], half?: (number | null)[]): Pt[] => {
  const out: Pt[] = [];
  hour.forEach((v, i) => {
    out.push([new Date(START + i * 3600e3), v]);
    if (half && i < half.length) out.push([new Date(START + (i + 0.5) * 3600e3), half[i]]);
  });
  return out;
};

export default function App() {
  const x = d3.scaleUtc().domain([new Date(START), new Date(END)]).range([LEFT, RIGHT]);
  const xTicks = x.ticks(d3.utcDay.every(2) as any);
  const xFmt = d3.utcFormat('%b-%d %H');

  const panels = [
    { label: 'B [nT]', labelX: 32, domain: [-17, 17], ticks: bTicks, fmt: d3.format('d'),
      series: [
        { pts: toPts(bxHour, bxHalf), color: bColors[0] },
        { pts: toPts(byHour, byHalf), color: bColors[1] },
        { pts: toPts(bzHour, bzHalf), color: bColors[2] },
        { pts: toPts(btHour, btHalf), color: bColors[3] },
      ], green: 2 },
    { label: 'V [km/s]', labelX: 36, domain: [272, 859], ticks: vTicks, fmt: d3.format('d'),
      series: [{ pts: toPts(speedHour, speedHalf), color: 'black' }], green: 2 },
    { label: 'N [ccm-3]', labelX: 47, domain: [0, 70.1], ticks: nTicks, fmt: d3.format('d'),
      series: [{ pts: toPts(densityHour), color: 'black' }], green: 2 },
    { label: 'T [MK]', labelX: 30, domain: [0, 0.838], ticks: tTicks, fmt: d3.format('.2f'),
      series: [{ pts: toPts(tempHour, tempHalf), color: 'black' }], green: 3 },
  ];

  return (
    <svg width={1350} height={900} style={{ position: 'absolute', left: 0, top: 0, background: 'white' }}
      fontFamily={FONT}>
      <defs>
        {panels.map((p, i) => (
          <clipPath id={`clip${i}`} key={i}>
            <rect x={LEFT} y={PANEL_TOP0 + i * PANEL_STEP} width={RIGHT - LEFT} height={PANEL_H} />
          </clipPath>
        ))}
      </defs>
      <text x={714} y={37.5} textAnchor="middle" fontSize={20.2} fill={TXT} style={{ whiteSpace: 'pre' }}>{TITLE}</text>
      {panels.map((p, i) => {
        const top = PANEL_TOP0 + i * PANEL_STEP;
        const bottom = top + PANEL_H;
        const y = d3.scaleLinear().domain(p.domain).range([bottom, top]);
        const line = d3.line<Pt>()
          .defined(d => d[1] !== null)
          .x(d => x(d[0]))
          .y(d => y(d[1] as number));
        return (
          <g key={i}>
            <rect x={LEFT} y={top} width={RIGHT - LEFT} height={PANEL_H} fill={BG} />
            <g clipPath={`url(#clip${i})`}>
              {xTicks.map((t, k) => (
                <line key={k} x1={x(t)} x2={x(t)} y1={top} y2={bottom} stroke="white" strokeWidth={1.7} />
              ))}
              {p.ticks.map((t, k) => (
                <line key={k} x1={LEFT} x2={RIGHT} y1={y(t)} y2={y(t)} stroke="white" strokeWidth={1.7} />
              ))}
              {p.series.map((s, k) => (
                <path key={k} d={line(s.pts) || ''} fill="none" stroke={s.color}
                  strokeWidth={1.2} strokeLinejoin="round" />
              ))}
              {hssStartTimes.concat(hssEndTimes).map((t, k) => (
                <line key={'h' + k} x1={x(new Date(t))} x2={x(new Date(t))} y1={top} y2={bottom}
                  stroke="black" strokeWidth={2} strokeDasharray="7,3" />
              ))}
              {vtmaxTimes.map((t, k) => (
                <line key={'v' + k} x1={x(new Date(t))} x2={x(new Date(t))} y1={top} y2={bottom}
                  stroke={GREEN} strokeWidth={p.green} />
              ))}
            </g>
            {p.ticks.map((t, k) => (
              <text key={k} x={89} y={y(t)} dy="0.35em" textAnchor="end" fontSize={17} fill={TXT}>{p.fmt(t)}</text>
            ))}
            <text transform={`translate(${p.labelX},${(top + bottom) / 2}) rotate(-90)`} textAnchor="middle"
              dy="0.35em" fontSize={19} fill={TXT}>{p.label}</text>
          </g>
        );
      })}
      {xTicks.map((t, k) => (
        <text key={k} x={x(t)} y={875} textAnchor="middle" fontSize={18.3} fill={TXT}>{xFmt(t)}</text>
      ))}
      <g>
        <rect x={1004.5} y={55.5} width={310} height={22} rx={3} fill={BG} fillOpacity={0.8} stroke="#cccccc" />
        {bLegend.map((name, k) => {
          const lx = 1010 + k * 76;
          return (
            <g key={k}>
              <line x1={lx} x2={lx + 26} y1={66} y2={66} stroke={bColors[k]} strokeWidth={1.2} />
              <text x={lx + 36} y={66} dy="0.35em" fontSize={11.5} fill={TXT}>{name}</text>
            </g>
          );
        })}
      </g>
      <g>
        <rect x={1080.5} y={675.5} width={234} height={61} rx={3} fill={BG} fillOpacity={0.8} stroke="#cccccc" />
        {eventLegend.map((name, k) => {
          const ly = 686 + k * 19.5;
          return (
            <g key={k}>
              <line x1={1085} x2={1112} y1={ly} y2={ly} stroke={k === 2 ? GREEN : 'black'}
                strokeWidth={k === 2 ? 2.5 : 2} strokeDasharray={k === 1 ? '6,3' : undefined} />
              <text x={1122} y={ly} dy="0.35em" fontSize={12.5} fill={TXT}>{name}</text>
            </g>
          );
        })}
      </g>
    </svg>
  );
}
